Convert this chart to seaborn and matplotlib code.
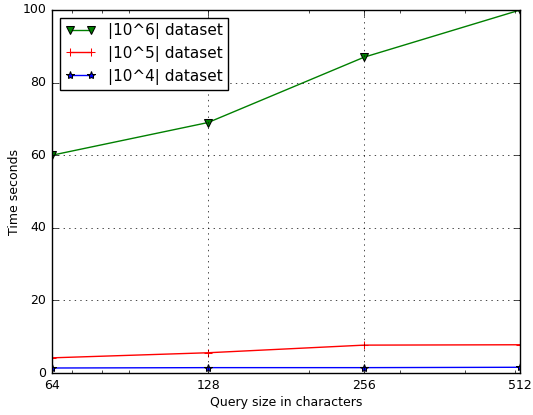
import matplotlib
matplotlib.use("Agg")
import matplotlib.pyplot as plt
from matplotlib.ticker import ScalarFormatter
import pandas as pd
import seaborn as sns

query_sizes = [64, 128, 256, 512]
time_1e6 = [60.0, 69.0, 87.0, 100.0]
time_1e5 = [4.2, 5.6, 7.7, 7.8]
time_1e4 = [1.4, 1.5, 1.5, 1.6]

plt.style.use("classic")

fig = plt.figure(figsize=(5.33, 4.15), dpi=100)
ax = fig.add_axes([0.0976, 0.101, 0.8784, 0.875])

series = [
    ("|10^6| dataset", time_1e6, "g", "v"),
    ("|10^5| dataset", time_1e5, "r", "+"),
    ("|10^4| dataset", time_1e4, "b", "*"),
]
for label, vals, color, marker in series:
    df = pd.DataFrame({"size": query_sizes, "time": vals})
    sns.lineplot(x="size", y="time", data=df, ax=ax, color=color,
                 marker=marker, markersize=6, label=label,
                 markeredgecolor="k" if marker != "+" else color)

ax.set_xscale("log")
ax.set_xlim(64, 512)
ax.set_ylim(0, 100)
ax.set_xticks(query_sizes)
ax.xaxis.set_major_formatter(ScalarFormatter())
ax.tick_params(labelsize=9)
ax.grid(True)
ax.set_xlabel("Query size in characters", fontsize=9, labelpad=3)
ax.set_ylabel("Time seconds", fontsize=9, labelpad=1)
ax.legend(loc="upper left", fontsize=11, numpoints=2, handlelength=2.0,
          borderpad=0.35, labelspacing=0.45)

fig.savefig("out.png", dpi=100)
